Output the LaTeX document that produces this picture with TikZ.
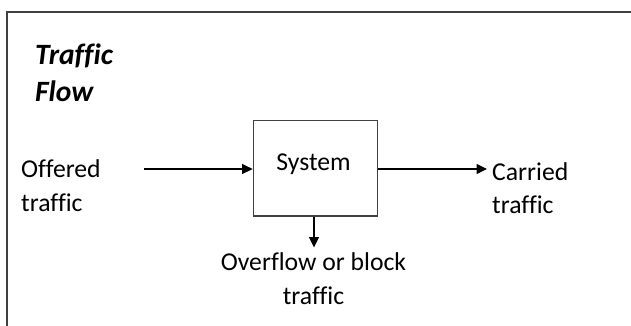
\documentclass[tikz,border=0pt]{standalone}
\usepackage{fontspec}
\setmainfont{Carlito}[Ligatures=NoCommon]
\usetikzlibrary{arrows.meta}
\begin{document}
\begin{tikzpicture}[x=1pt,y=-1pt,
  frameline/.style={draw=black!75,line width=1.6pt},
  sysbox/.style={draw=black!75,line width=1.4pt,minimum width=124pt,minimum height=95.5pt,inner sep=0pt},
  flow/.style={draw=black,line width=1.2pt,-{Triangle[length=10.5pt,width=10pt]}},
  label/.style={inner sep=0pt,font=\fontsize{25.7}{33.5}\selectfont},
  title/.style={inner sep=0pt,align=left,font=\fontsize{29.5}{37}\selectfont\bfseries\itshape}]
  \useasboundingbox (0,0) rectangle (631,325);
  % outer frame, only its left and top edges fall inside the page
  \draw[frameline] (7,330) -- (7,12) -- (640,12);
  % heading (base anchor sits on the last line)
  \node[title,anchor=base west] (head) at (35,101) {Traffic\\Flow};
  % the system block
  \node[sysbox] (sys) at (315.3,168.3) {};
  \node[label,anchor=base] (systxt) at (313.5,170) {System};
  % labels
  \node[label,align=left,anchor=base west] (offered) at (21,211) {Offered\\traffic};
  \node[label,align=left,anchor=base west] (carried) at (492,213.5) {Carried\\traffic};
  \node[label,align=center,anchor=base] (overflow) at (313.5,304) {Overflow or block\\traffic};
  % connectors
  \coordinate (inA) at (144,169);
  \coordinate (outB) at (487,169);
  \coordinate (downB) at (314,247.5);
  \draw[flow] (inA) -- (inA -| sys.west);
  \draw[flow] (outB -| sys.east) -- (outB);
  \draw[flow] (downB |- sys.south) -- (downB);
\end{tikzpicture}
\end{document}
